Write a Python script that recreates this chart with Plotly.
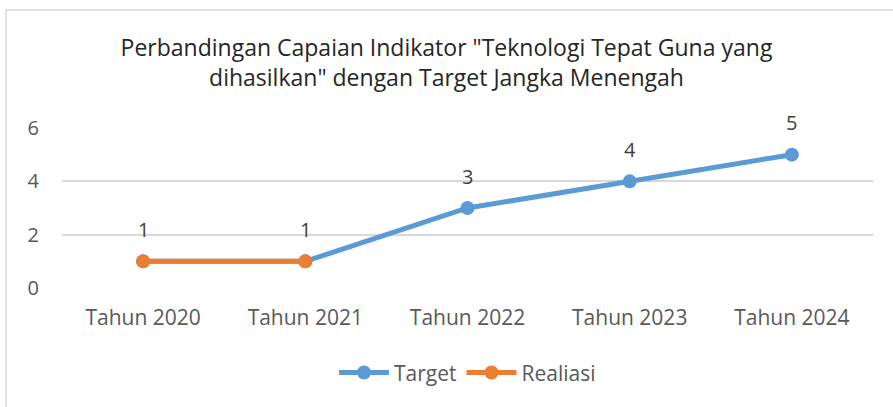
import plotly.graph_objects as go

categories = ["Tahun 2020", "Tahun 2021", "Tahun 2022", "Tahun 2023", "Tahun 2024"]
target = [1, 1, 3, 4, 5]
realisasi = [1, 1, None, None, None]
y_ticks = [0, 2, 4, 6]
title_text = 'Perbandingan Capaian Indikator "Teknologi Tepat Guna yang<br>dihasilkan" dengan Target Jangka Menengah'

FONT = "Open Sans"
fig = go.Figure()
fig.add_trace(go.Scatter(
    x=categories, y=target, name="Target", mode="lines+markers",
    line=dict(color="#5B9BD5", width=5), marker=dict(size=14, color="#5B9BD5"),
))
fig.add_trace(go.Scatter(
    x=categories, y=realisasi, name="Realiasi", mode="lines+markers",
    line=dict(color="#ED7D31", width=5), marker=dict(size=14, color="#ED7D31"),
))

annotations = []
for c, v in zip(categories, target):
    annotations.append(dict(x=c, y=v, xref="x", yref="y", text=str(v), showarrow=False,
                            yshift=32, font=dict(family=FONT, size=20, color="#404040")))

fig.update_layout(
    width=893, height=407,
    margin=dict(l=62, r=20, t=128, b=119),
    paper_bgcolor="white", plot_bgcolor="white",
    title=dict(text=title_text, x=0.5, xanchor="center", y=1 - 56 / 407, yanchor="middle",
               yref="container", font=dict(family=FONT, size=23, color="#262626")),
    xaxis=dict(range=[-0.5, 4.5], showgrid=False, showline=False, zeroline=False,
               tickfont=dict(family=FONT, size=21, color="#595959"), ticks="", ticklabelstandoff=15),
    yaxis=dict(range=[0, 6], tickvals=y_ticks, showgrid=True, gridcolor="#D9D9D9", gridwidth=1.5,
               zeroline=False, showline=False,
               tickfont=dict(family=FONT, size=20, color="#595959"), ticks="", ticklabelstandoff=22),
    legend=dict(orientation="h", x=0.5, xanchor="center", y=-0.53, yanchor="middle",
                font=dict(family=FONT, size=21, color="#595959"), itemwidth=50),
    annotations=annotations,
    shapes=[dict(type="rect", xref="paper", yref="paper", x0=-0.069, x1=1.2, y0=-1.0, y1=1.7375,
                 line=dict(color="#D9D9D9", width=1.5), layer="below")],
    showlegend=True,
)
fig.write_html("out.html", config={"displayModeBar": False},
               post_script="document.body.style.margin='0';document.body.style.overflow='hidden';")
